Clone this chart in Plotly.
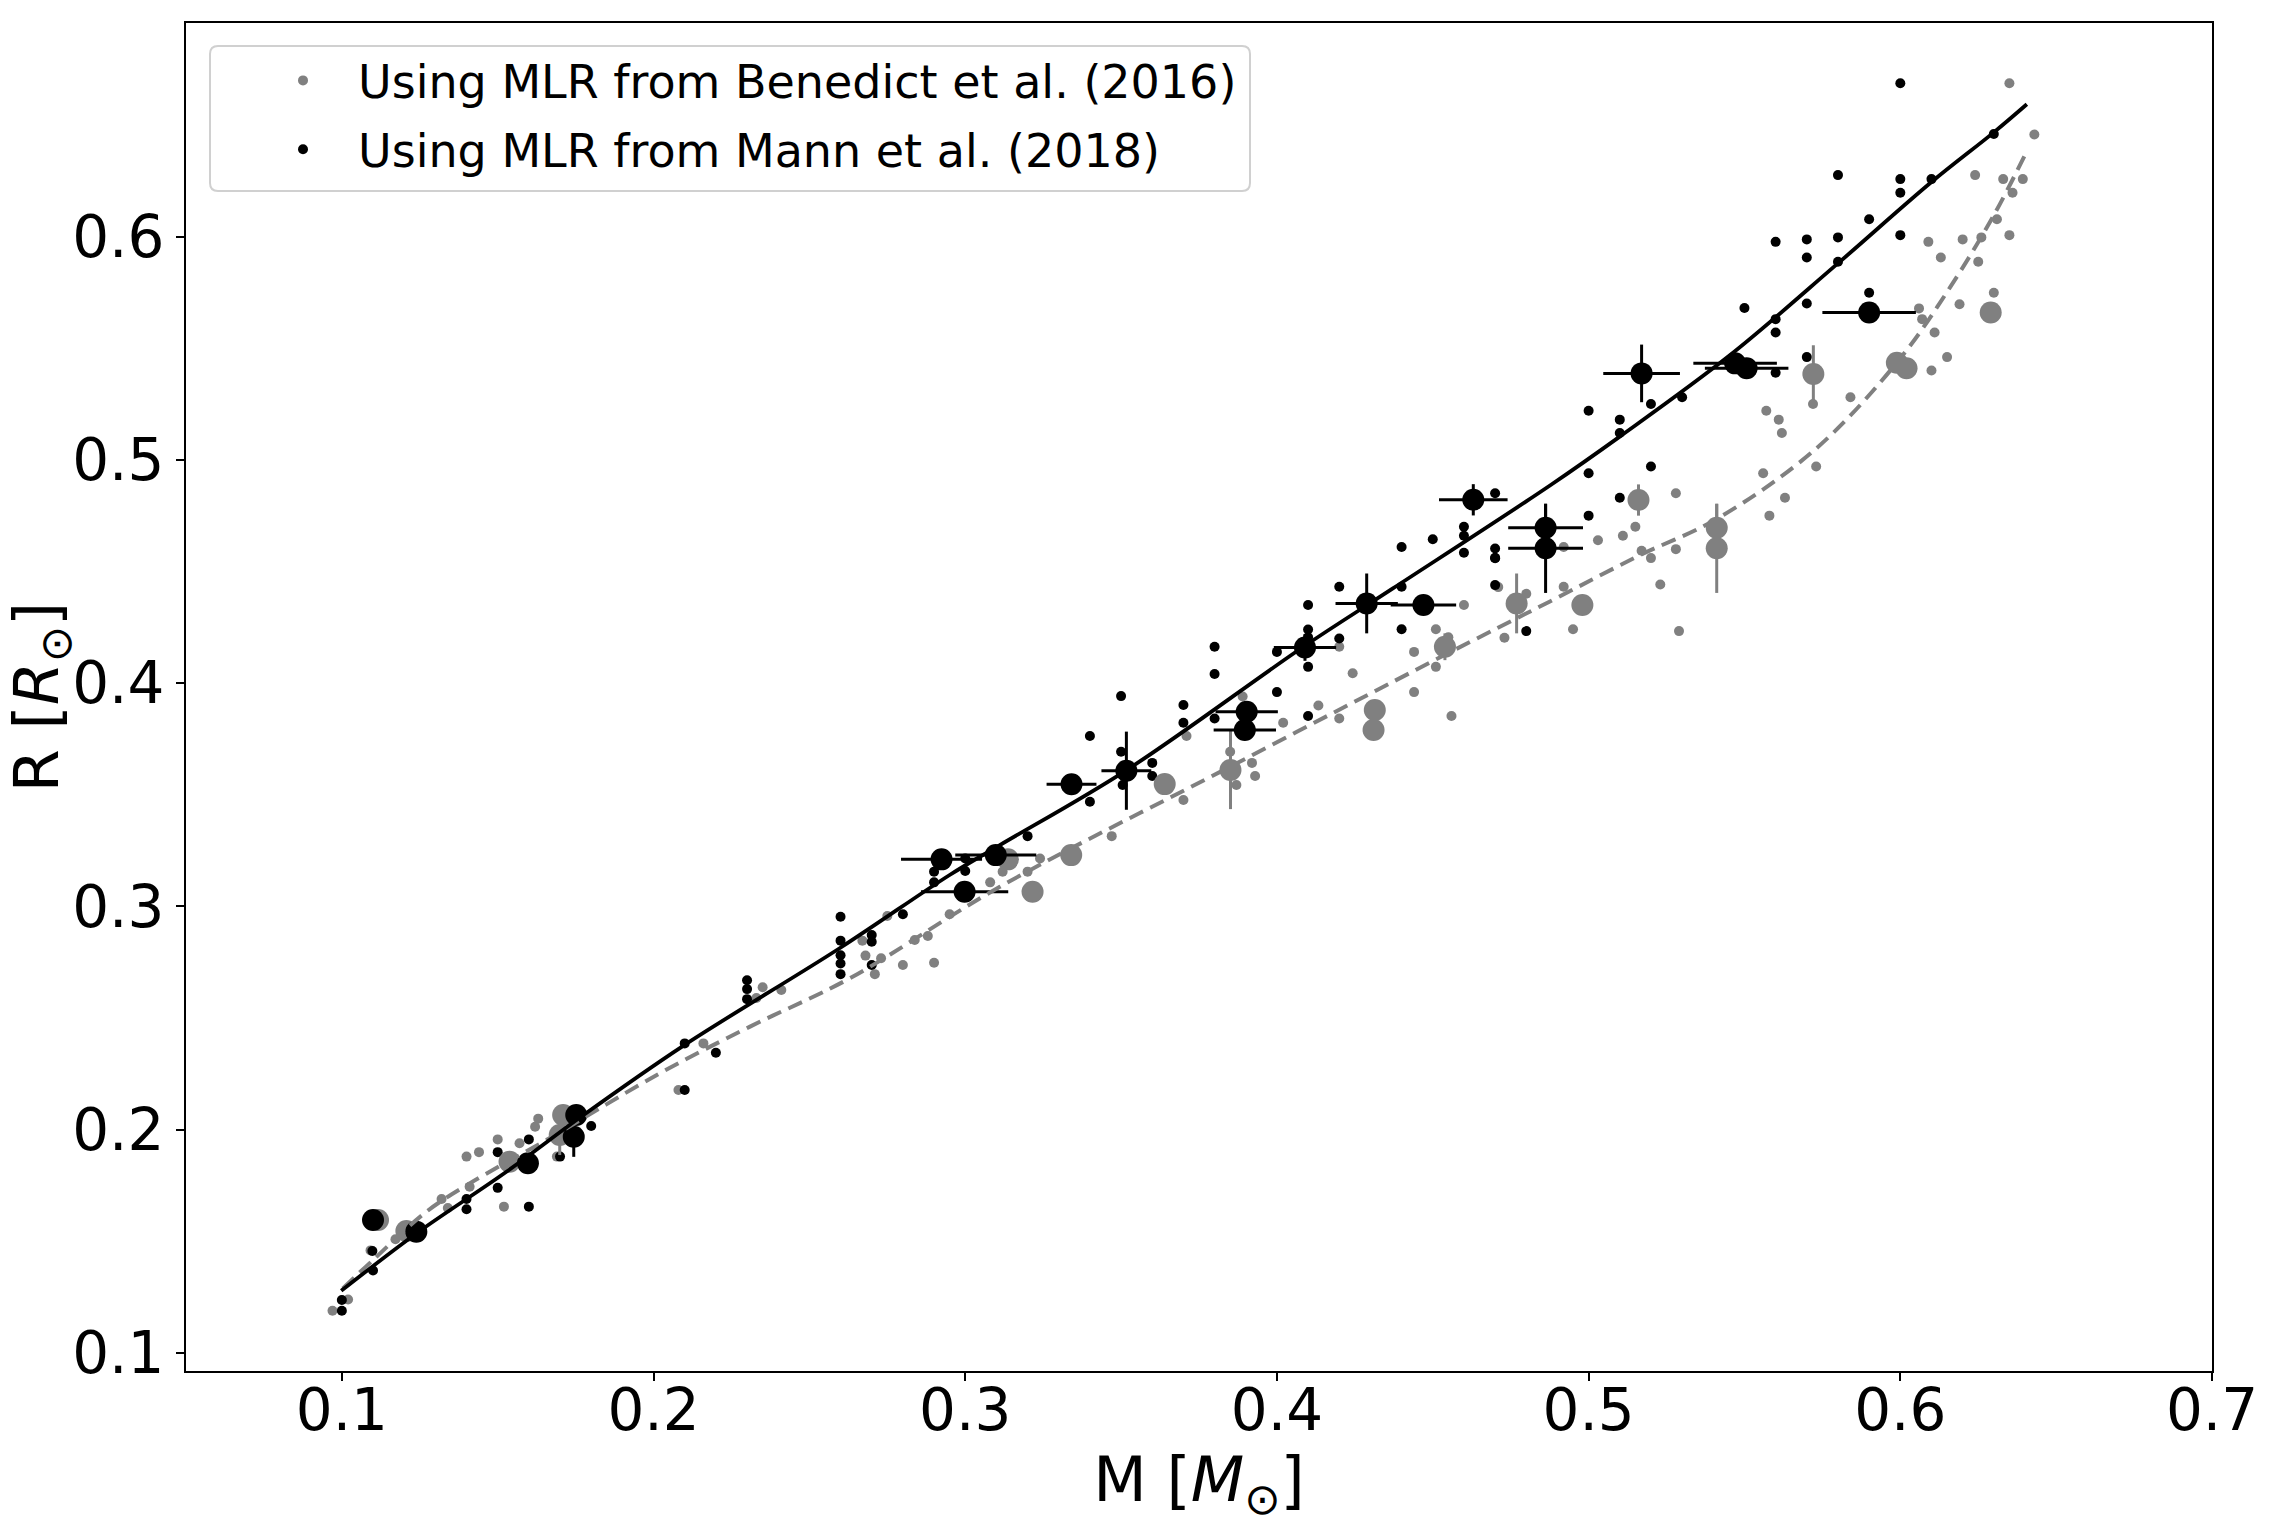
import plotly.graph_objects as go

# ---------------- data ----------------
# small dots, Mann et al. (2018) MLR (black)
mann_M = [0.100, 0.100, 0.110, 0.1098, 0.140, 0.140, 0.150, 0.150, 0.160, 0.160,
          0.170, 0.180, 0.210, 0.220, 0.210, 0.230, 0.230, 0.230, 0.260, 0.260,
          0.260, 0.260, 0.260, 0.270, 0.270, 0.270, 0.280, 0.290, 0.290, 0.300,
          0.300, 0.320, 0.340, 0.340, 0.350, 0.350, 0.3505, 0.360, 0.360, 0.370,
          0.370, 0.380, 0.380, 0.380, 0.400, 0.400, 0.410, 0.410, 0.410, 0.410,
          0.410, 0.420, 0.420, 0.440, 0.440, 0.460, 0.470, 0.470, 0.440, 0.450,
          0.460, 0.460, 0.470, 0.470, 0.470, 0.480, 0.500, 0.500, 0.500, 0.510,
          0.510, 0.510, 0.520, 0.520, 0.530, 0.550, 0.560, 0.560, 0.560, 0.570,
          0.570, 0.600, 0.630, 0.580, 0.600, 0.600, 0.610, 0.590, 0.600, 0.560,
          0.570, 0.570, 0.580, 0.580, 0.590]
mann_R = [0.1238, 0.119, 0.137, 0.1457, 0.169, 0.1644, 0.190, 0.174, 0.1957, 0.1656,
          0.188, 0.2017, 0.2178, 0.2345, 0.2387, 0.267, 0.263, 0.2585, 0.2954, 0.2847,
          0.2782, 0.2745, 0.2697, 0.2872, 0.2842, 0.2738, 0.2965, 0.3108, 0.3156, 0.3215,
          0.3159, 0.3315, 0.3469, 0.3763, 0.3942, 0.3693, 0.3544, 0.3643, 0.3584, 0.3902,
          0.3823, 0.4163, 0.4041, 0.3842, 0.414, 0.396, 0.435, 0.424, 0.4205, 0.4073,
          0.3853, 0.420, 0.4432, 0.4432, 0.4241, 0.4584, 0.4559, 0.4439, 0.461, 0.4644,
          0.470, 0.466, 0.485, 0.4603, 0.4561, 0.4233, 0.522, 0.494, 0.475, 0.518,
          0.512, 0.483, 0.525, 0.497, 0.528, 0.568, 0.563, 0.557, 0.539, 0.570,
          0.546, 0.6686, 0.6459, 0.6275, 0.6257, 0.6196, 0.6257, 0.6077, 0.6006, 0.5976,
          0.5987, 0.5906, 0.5996, 0.5887, 0.5748]

# small dots, Benedict et al. (2016) MLR (gray)
ben_M = [0.097, 0.102, 0.1092, 0.1172, 0.132, 0.134, 0.141, 0.140, 0.144, 0.150,
         0.152, 0.157, 0.163, 0.162, 0.169, 0.208, 0.216, 0.235, 0.233, 0.241,
         0.267, 0.268, 0.273, 0.271, 0.275, 0.280, 0.2838, 0.288, 0.290, 0.295,
         0.308, 0.312, 0.320, 0.324, 0.347, 0.370, 0.371, 0.385, 0.387, 0.392,
         0.393, 0.389, 0.402, 0.4133, 0.420, 0.4243, 0.420, 0.444, 0.444, 0.451,
         0.451, 0.455, 0.456, 0.460, 0.471, 0.480, 0.473, 0.492, 0.492, 0.495,
         0.503, 0.511, 0.515, 0.517, 0.520, 0.523, 0.528, 0.528, 0.529, 0.557,
         0.561, 0.562, 0.584, 0.572, 0.573, 0.556, 0.563, 0.558, 0.635, 0.643,
         0.624, 0.633, 0.6393, 0.636, 0.631, 0.635, 0.609, 0.613, 0.620, 0.626,
         0.625, 0.606, 0.607, 0.611, 0.615, 0.610, 0.619, 0.630]
ben_R = [0.119, 0.124, 0.146, 0.151, 0.169, 0.165, 0.1745, 0.188, 0.190, 0.1957,
         0.1656, 0.194, 0.205, 0.2014, 0.188, 0.2178, 0.2387, 0.2638, 0.259, 0.2626,
         0.2847, 0.278, 0.2768, 0.2697, 0.2957, 0.2738, 0.285, 0.2868, 0.2748, 0.2965,
         0.3108, 0.3156, 0.3156, 0.3215, 0.3315, 0.3477, 0.3763, 0.3693, 0.3544, 0.3643,
         0.3584, 0.394, 0.3823, 0.390, 0.4163, 0.4044, 0.3842, 0.414, 0.396, 0.4241,
         0.4073, 0.4205, 0.3853, 0.435, 0.443, 0.440, 0.4203, 0.461, 0.4432, 0.4241,
         0.464, 0.466, 0.470, 0.4593, 0.456, 0.4442, 0.485, 0.460, 0.4233, 0.522,
         0.518, 0.512, 0.528, 0.525, 0.497, 0.494, 0.483, 0.475, 0.6686, 0.6457,
         0.6275, 0.6257, 0.6257, 0.6196, 0.6077, 0.6006, 0.5976, 0.5906, 0.5987, 0.5996,
         0.5887, 0.5678, 0.563, 0.557, 0.546, 0.540, 0.5697, 0.5748]

# large points with error bars (calibrators)
mann_big_M = [0.110, 0.1239, 0.1597, 0.1752, 0.1744, 0.2924, 0.2998, 0.3098, 0.3341, 0.3517,
              0.3903, 0.3897, 0.409, 0.4288, 0.447, 0.463, 0.4862, 0.4862, 0.517, 0.547,
              0.5507, 0.590]
mann_big_R = [0.1596, 0.1544, 0.185, 0.2066, 0.1969, 0.3211, 0.3066, 0.323, 0.3547, 0.3608,
              0.3872, 0.379, 0.416, 0.4357, 0.435, 0.4821, 0.4696, 0.4604, 0.5387, 0.5432,
              0.541, 0.566]
mann_big_Merr = [0.0, 0.0, 0.0, 0.0, 0.0, 0.013, 0.014, 0.013, 0.008, 0.008,
                 0.010, 0.010, 0.010, 0.010, 0.0105, 0.011, 0.012, 0.012, 0.0123, 0.0134,
                 0.0134, 0.015]
big_Rerr = [0.004, 0.002, 0.004, 0.004, 0.009, 0.002, 0.002, 0.002, 0.002, 0.0175,
            0.002, 0.002, 0.006, 0.0134, 0.002, 0.007, 0.0106, 0.020, 0.0129, 0.003,
            0.003, 0.003]
ben_big_M = [0.1116, 0.1207, 0.1538, 0.171, 0.1699, 0.3137, 0.3216, 0.334, 0.364, 0.3851,
             0.4314, 0.431, 0.4539, 0.4769, 0.498, 0.516, 0.5411, 0.5411, 0.5721, 0.5989,
             0.602, 0.629]
ben_big_R = [0.1596, 0.1547, 0.1857, 0.2066, 0.1977, 0.3211, 0.3066, 0.323, 0.3548, 0.3611,
             0.388, 0.379, 0.4163, 0.4357, 0.435, 0.482, 0.4696, 0.4604, 0.5384, 0.5435,
             0.541, 0.566]

# fitted relations, sampled along the drawn curves
mann_fit_M = [0.0998, 0.1239, 0.1528, 0.1774, 0.2094, 0.2597, 0.295, 0.3111, 0.3518, 0.4085,
              0.4372, 0.4876, 0.5101, 0.5454, 0.5796, 0.6101, 0.6299, 0.6406]
mann_fit_R = [0.1279, 0.1536, 0.1812, 0.2065, 0.2375, 0.2813, 0.3141, 0.3275, 0.3611, 0.4163,
              0.4424, 0.4885, 0.5105, 0.5469, 0.5875, 0.6245, 0.6465, 0.6592]
ben_fit_M = [0.1003, 0.110, 0.1271, 0.141, 0.1656, 0.202, 0.2308, 0.2629, 0.3111, 0.385,
             0.4538, 0.4876, 0.5165, 0.5411, 0.5732, 0.5999, 0.616, 0.6299, 0.640]
ben_fit_R = [0.129, 0.1417, 0.1633, 0.176, 0.1954, 0.2253, 0.2461, 0.2678, 0.3088, 0.3626,
             0.4126, 0.4366, 0.4573, 0.4735, 0.5053, 0.5453, 0.5773, 0.6093, 0.6365]

x_ticks = [0.1, 0.2, 0.3, 0.4, 0.5, 0.6, 0.7]
y_ticks = [0.1, 0.2, 0.3, 0.4, 0.5, 0.6]

GRAY = "#808080"
FONT = "DejaVu Sans"

fig = go.Figure()

fig.add_trace(go.Scatter(x=ben_M, y=ben_R, mode="markers", name="Using MLR from Benedict et al. (2016)",
                         marker=dict(color=GRAY, size=10), legendgroup="a"))
fig.add_trace(go.Scatter(x=mann_M, y=mann_R, mode="markers", name="Using MLR from Mann et al. (2018)",
                         marker=dict(color="black", size=10), legendgroup="b"))

fig.add_trace(go.Scatter(x=ben_big_M, y=ben_big_R, mode="markers", showlegend=False,
                         marker=dict(color=GRAY, size=22),
                         error_y=dict(type="data", array=big_Rerr, color=GRAY, thickness=3, width=0)))
fig.add_trace(go.Scatter(x=mann_big_M, y=mann_big_R, mode="markers", showlegend=False,
                         marker=dict(color="black", size=22),
                         error_x=dict(type="data", array=mann_big_Merr, color="black", thickness=3, width=0),
                         error_y=dict(type="data", array=big_Rerr, color="black", thickness=3, width=0)))

fig.add_trace(go.Scatter(x=ben_fit_M, y=ben_fit_R, mode="lines", showlegend=False,
                         line=dict(color=GRAY, width=4, dash="15px,8px", shape="spline", smoothing=1.0)))
fig.add_trace(go.Scatter(x=mann_fit_M, y=mann_fit_R, mode="lines", showlegend=False,
                         line=dict(color="black", width=3.8, shape="spline", smoothing=1.0)))

axis_common = dict(showline=True, linecolor="black", linewidth=2, mirror=True,
                   ticks="outside", ticklen=8, tickwidth=2, tickcolor="black",
                   showgrid=False, zeroline=False,
                   tickfont=dict(family=FONT, size=58, color="black"))

fig.update_xaxes(range=[0.05, 0.7], tickvals=x_ticks, ticktext=[f"{v:.1f}" for v in x_ticks],
                 ticklabelstandoff=-21,
                 title=dict(text="M [<i>M</i><sub>⊙</sub>]", font=dict(family=FONT, size=62, color="black"),
                            standoff=18),
                 **axis_common)
fig.update_yaxes(range=[0.092, 0.6956], tickvals=y_ticks, ticktext=[f"{v:.1f}" for v in y_ticks],
                 title=dict(text="R [<i>R</i><sub>⊙</sub>]", font=dict(family=FONT, size=62, color="black"),
                            standoff=2),
                 **axis_common)

# legend frame (rounded box) in paper coordinates
W, H = 2274, 1524
ml, mr, mt, mb = 186, 62, 23, 153
pw, ph = W - ml - mr, H - mt - mb
bx0, bx1 = (210 - ml) / pw, (1250 - ml) / pw
by0, by1 = 1 - (191 - mt) / ph, 1 - (46 - mt) / ph
rx, ry = 8 / pw, 8 / ph
legend_path = (f"M {bx0+rx},{by1} L {bx1-rx},{by1} Q {bx1},{by1} {bx1},{by1-ry} "
               f"L {bx1},{by0+ry} Q {bx1},{by0} {bx1-rx},{by0} L {bx0+rx},{by0} "
               f"Q {bx0},{by0} {bx0},{by0+ry} L {bx0},{by1-ry} Q {bx0},{by1} {bx0+rx},{by1} Z")

fig.update_layout(
    width=W, height=H,
    margin=dict(l=ml, r=mr, t=mt, b=mb),
    plot_bgcolor="white", paper_bgcolor="white",
    font=dict(family=FONT, color="black"),
    shapes=[dict(type="path", xref="paper", yref="paper", path=legend_path,
                 line=dict(color="#d0d0d0", width=2), fillcolor="rgba(255,255,255,0.8)", layer="above")],
    legend=dict(x=(248 - ml) / pw, y=1 - (44 - mt) / ph, xanchor="left", yanchor="top",
                bgcolor="rgba(0,0,0,0)", borderwidth=0,
                font=dict(family=FONT, size=46, color="black"),
                itemwidth=100, tracegroupgap=6),
)

fig.write_html("out.html")
